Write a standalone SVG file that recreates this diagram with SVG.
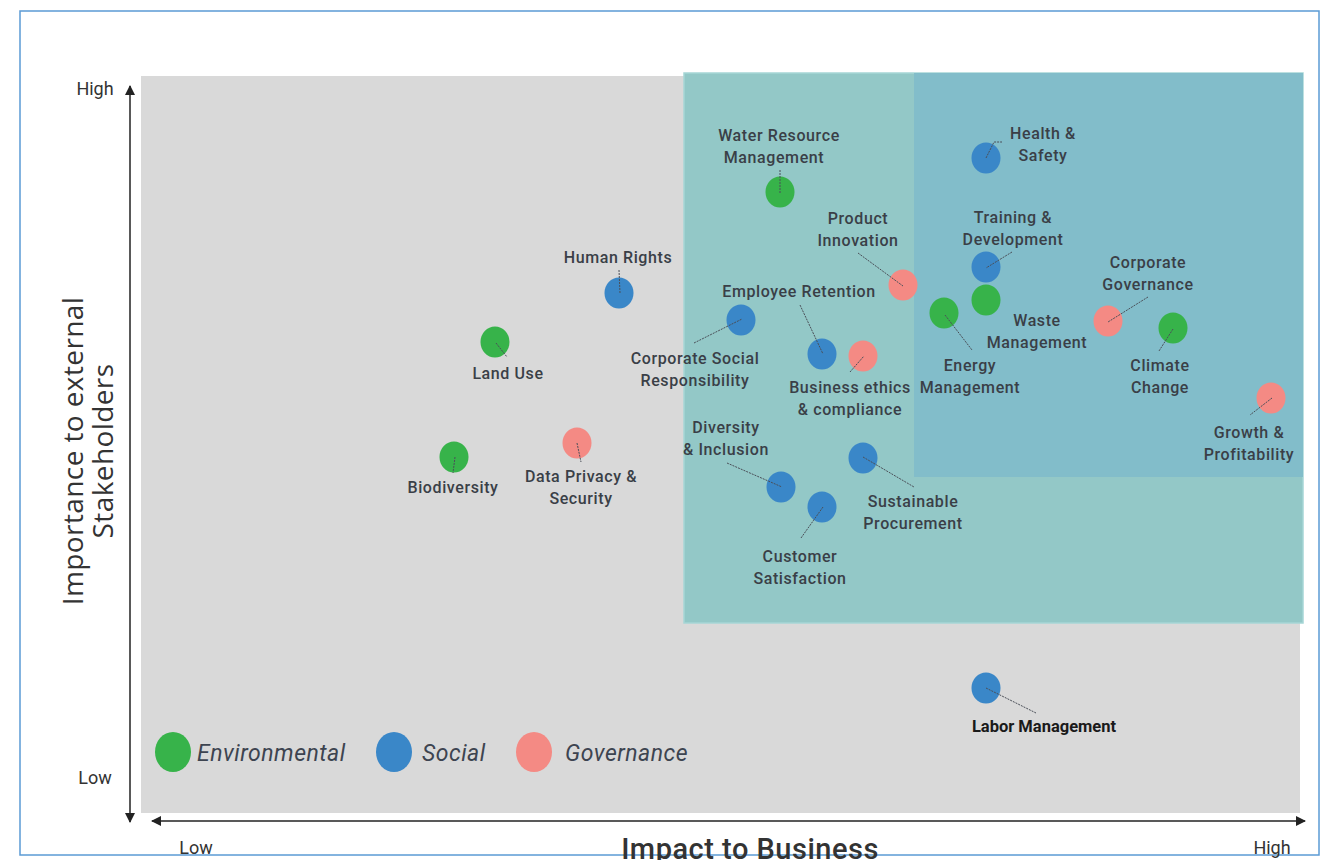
<svg xmlns="http://www.w3.org/2000/svg" width="1326" height="860" viewBox="0 0 1326 860">
<style>
.lbl{font-family:Roboto,"DejaVu Sans",sans-serif;font-size:16px;font-weight:500;letter-spacing:0.6px;fill:#3a3f47;text-anchor:middle}
.ax{font-family:Roboto,"Liberation Sans",sans-serif;font-size:18px;fill:#333;}
.ttl{font-family:"Open Sans","DejaVu Sans",sans-serif;font-size:28px;letter-spacing:0.4px;fill:#333;text-anchor:middle}
.leg{font-family:Roboto,"DejaVu Sans",sans-serif;font-size:23px;font-style:italic;letter-spacing:0.5px;fill:#3d4450}
.lead{stroke:#4a4f58;stroke-width:1;stroke-dasharray:2 1;fill:none}
.env{fill:#37b34a}.soc{fill:#3a87c8}.gov{fill:#f48a84}
</style>
<defs>
<marker id="ah" viewBox="0 0 10 10" refX="9" refY="5" markerWidth="10" markerHeight="10" markerUnits="userSpaceOnUse" orient="auto-start-reverse">
<path d="M0,0 L10,5 L0,10 z" fill="#222"/>
</marker>
</defs>
<rect x="0" y="0" width="1326" height="860" fill="#fff"/>
<rect x="20" y="11" width="1299" height="844" fill="none" stroke="#5b9bd5" stroke-width="1.5"/>
<rect x="141" y="76" width="1159" height="737" fill="#d9d9d9"/>
<rect x="684" y="73" width="619" height="550" fill="#93c8c7" stroke="#a6d6d6" stroke-width="1.5"/>
<rect x="914" y="73" width="389" height="404" fill="#82bdca"/>
<g id="axes">
<line x1="130" y1="822" x2="130" y2="86" stroke="#222" stroke-width="1.5" marker-end="url(#ah)" marker-start="url(#ah)"/>
<line x1="152" y1="821" x2="1305" y2="821" stroke="#222" stroke-width="1.5" marker-end="url(#ah)" marker-start="url(#ah)"/>
<text class="ax" x="95" y="95" text-anchor="middle">High</text>
<text class="ax" x="95" y="784" text-anchor="middle">Low</text>
<text class="ax" x="196" y="854" text-anchor="middle">Low</text>
<text class="ax" x="1272" y="854" text-anchor="middle">High</text>
<text x="750" y="859" text-anchor="middle" style="font-family:Roboto,sans-serif;font-size:29px;font-weight:500;letter-spacing:0.5px;fill:#333">Impact to Business</text>
<text class="ttl" transform="translate(83,451) rotate(-90)">Importance to external</text>
<text class="ttl" transform="translate(113,451) rotate(-90)">Stakeholders</text>
</g>
<g id="water"><ellipse class="env" cx="780" cy="192" rx="14.5" ry="15.5"/><text class="lbl" x="779" y="141">Water Resource</text><text class="lbl" x="774" y="163">Management</text></g>
<g id="health"><ellipse class="soc" cx="986" cy="158" rx="14.5" ry="15.5"/><text class="lbl" x="1043" y="139">Health &amp;</text><text class="lbl" x="1043" y="161">Safety</text></g>
<g id="product"><ellipse class="gov" cx="903" cy="285" rx="14.5" ry="15.5"/><text class="lbl" x="858" y="224">Product</text><text class="lbl" x="858" y="246">Innovation</text></g>
<g id="training"><ellipse class="soc" cx="986" cy="267" rx="14.5" ry="15.5"/><text class="lbl" x="1013" y="223">Training &amp;</text><text class="lbl" x="1013" y="245">Development</text></g>
<g id="waste"><ellipse class="env" cx="986" cy="300" rx="14.5" ry="15.5"/><text class="lbl" x="1037" y="326">Waste</text><text class="lbl" x="1037" y="348">Management</text></g>
<g id="energy"><ellipse class="env" cx="944" cy="313" rx="14.5" ry="15.5"/><text class="lbl" x="970" y="371">Energy</text><text class="lbl" x="970" y="393">Management</text></g>
<g id="corpgov"><ellipse class="gov" cx="1108" cy="321" rx="14.5" ry="15.5"/><text class="lbl" x="1148" y="268">Corporate</text><text class="lbl" x="1148" y="290">Governance</text></g>
<g id="climate"><ellipse class="env" cx="1173" cy="328" rx="14.5" ry="15.5"/><text class="lbl" x="1160" y="371">Climate</text><text class="lbl" x="1160" y="393">Change</text></g>
<g id="growth"><ellipse class="gov" cx="1271" cy="398" rx="14.5" ry="15.5"/><text class="lbl" x="1249" y="438">Growth &amp;</text><text class="lbl" x="1249" y="460">Profitability</text></g>
<g id="human"><ellipse class="soc" cx="619" cy="293" rx="14.5" ry="15.5"/><text class="lbl" x="618" y="263">Human Rights</text></g>
<g id="employee"><ellipse class="soc" cx="822" cy="354" rx="14.5" ry="15.5"/><text class="lbl" x="799" y="297">Employee Retention</text></g>
<g id="csr"><ellipse class="soc" cx="741" cy="320" rx="14.5" ry="15.5"/><text class="lbl" x="695" y="364">Corporate Social</text><text class="lbl" x="695" y="386">Responsibility</text></g>
<g id="ethics"><ellipse class="gov" cx="863" cy="356" rx="14.5" ry="15.5"/><text class="lbl" x="850" y="393">Business ethics</text><text class="lbl" x="850" y="415">&amp; compliance</text></g>
<g id="landuse"><ellipse class="env" cx="495" cy="342" rx="14.5" ry="15.5"/><text class="lbl" x="508" y="379">Land Use</text></g>
<g id="biodiversity"><ellipse class="env" cx="454" cy="457" rx="14.5" ry="15.5"/><text class="lbl" x="453" y="493">Biodiversity</text></g>
<g id="privacy"><ellipse class="gov" cx="577" cy="443" rx="14.5" ry="15.5"/><text class="lbl" x="581" y="482">Data Privacy &amp;</text><text class="lbl" x="581" y="504">Security</text></g>
<g id="diversity"><ellipse class="soc" cx="781" cy="487" rx="14.5" ry="15.5"/><text class="lbl" x="726" y="433">Diversity</text><text class="lbl" x="726" y="455">&amp; Inclusion</text></g>
<g id="customer"><ellipse class="soc" cx="822" cy="507" rx="14.5" ry="15.5"/><text class="lbl" x="800" y="562">Customer</text><text class="lbl" x="800" y="584">Satisfaction</text></g>
<g id="procurement"><ellipse class="soc" cx="863" cy="458" rx="14.5" ry="15.5"/><text class="lbl" x="913" y="507">Sustainable</text><text class="lbl" x="913" y="529">Procurement</text></g>
<g id="labor"><ellipse class="soc" cx="986" cy="688" rx="14.5" ry="15.5"/><text x="1044" y="732" text-anchor="middle" style="font-family:'Liberation Sans Narrow','Roboto',sans-serif;font-size:16.5px;font-weight:bold;fill:#1a1a1a">Labor Management</text></g>
<g id="connectors">
<line class="lead" x1="780" y1="170" x2="780" y2="193"/>
<polyline class="lead" points="986,158 994,142 1002,142"/>
<line class="lead" x1="858" y1="253" x2="903" y2="286"/>
<line class="lead" x1="619" y1="270" x2="620" y2="293"/>
<line class="lead" x1="800" y1="305" x2="823" y2="354"/>
<line class="lead" x1="694" y1="343" x2="742" y2="319"/>
<line class="lead" x1="850" y1="372" x2="864" y2="356"/>
<line class="lead" x1="1012" y1="252" x2="986" y2="268"/>
<line class="lead" x1="945" y1="315" x2="972" y2="350"/>
<line class="lead" x1="1148" y1="297" x2="1108" y2="322"/>
<line class="lead" x1="1173" y1="329" x2="1159" y2="351"/>
<line class="lead" x1="1272" y1="398" x2="1250" y2="415"/>
<line class="lead" x1="496" y1="343" x2="507" y2="357"/>
<line class="lead" x1="455" y1="457" x2="453" y2="473"/>
<line class="lead" x1="577" y1="443" x2="581" y2="462"/>
<line class="lead" x1="727" y1="463" x2="782" y2="487"/>
<line class="lead" x1="863" y1="457" x2="914" y2="487"/>
<line class="lead" x1="823" y1="507" x2="801" y2="538"/>
<line class="lead" x1="986" y1="688" x2="1036" y2="713"/>
</g>
<g id="legend">
<ellipse class="env" cx="173" cy="752" rx="18" ry="20"/><text class="leg" x="197" y="761">Environmental</text>
<ellipse class="soc" cx="394" cy="752" rx="18" ry="20"/><text class="leg" x="422" y="761">Social</text>
<ellipse class="gov" cx="534" cy="752" rx="18" ry="20"/><text class="leg" x="565" y="761">Governance</text>
</g>
</svg>
